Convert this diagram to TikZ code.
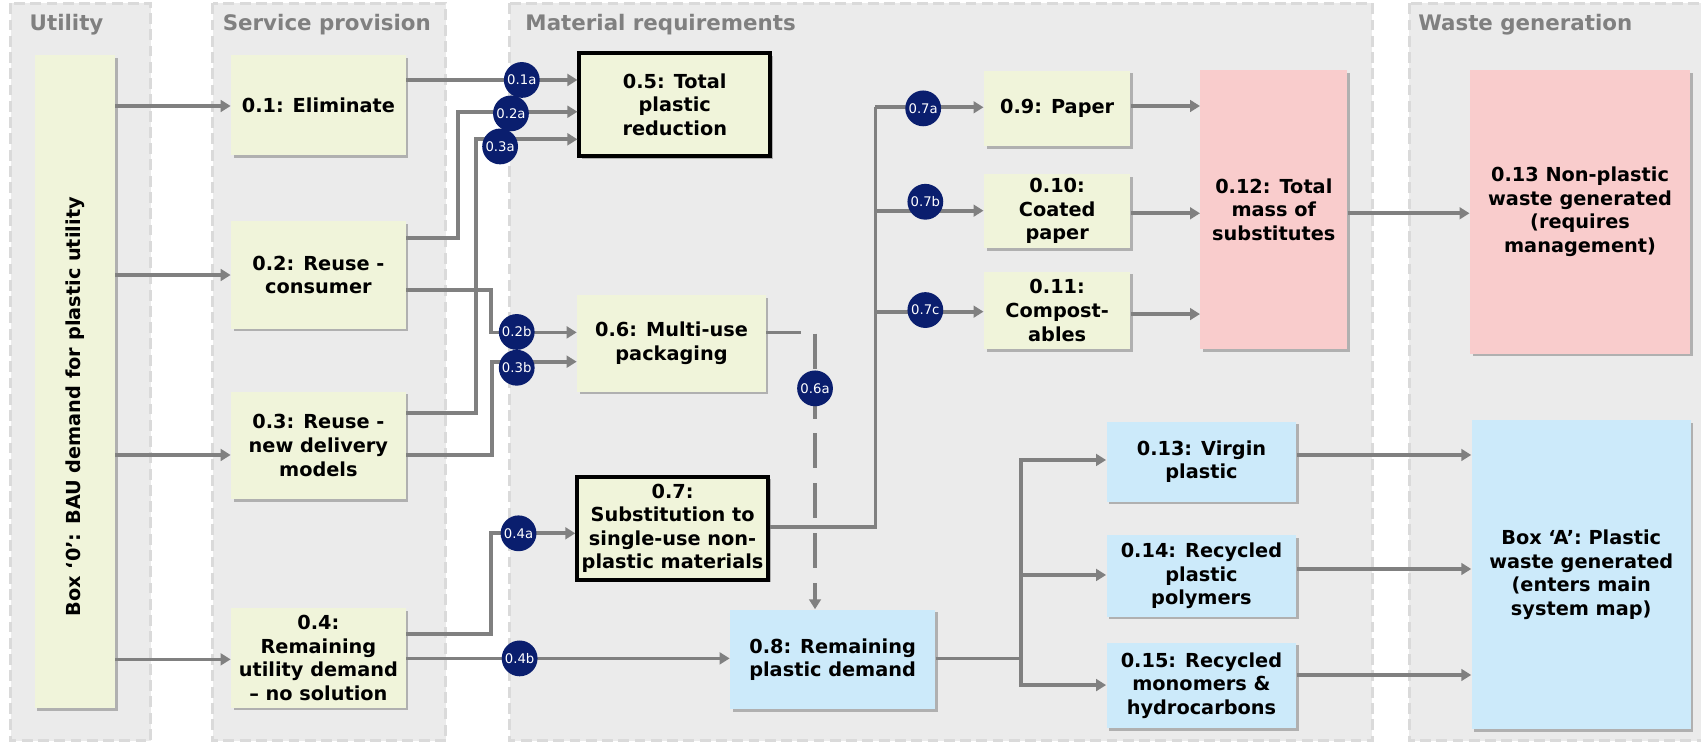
\documentclass[tikz,border=0pt]{standalone}
\usepackage{fontspec}
\setmainfont{DejaVu Sans}
\usetikzlibrary{arrows.meta,shadows}

\definecolor{panelgrey}{RGB}{235,235,235}
\definecolor{paneledge}{RGB}{218,218,218}
\definecolor{boxgreen}{RGB}{240,244,218}
\definecolor{boxpink}{RGB}{249,204,204}
\definecolor{boxblue}{RGB}{204,234,250}
\definecolor{flowgrey}{RGB}{128,128,128}
\definecolor{titlegrey}{RGB}{128,128,128}
\definecolor{badgenavy}{RGB}{10,30,110}

\begin{document}
\begin{tikzpicture}[x=0.5pt,y=-0.5pt,
  panel/.style={fill=panelgrey, draw=paneledge, line width=1.4pt, dash pattern=on 5pt off 2.5pt},
  paneltitle/.style={anchor=base west, text=titlegrey, inner sep=0pt,
    font=\fontsize{9.85}{12}\selectfont\bfseries},
  box/.style={align=center, inner sep=0pt,
    font=\fontsize{8.9}{10.9}\selectfont\bfseries,
    drop shadow={shadow xshift=1.2pt, shadow yshift=-1.2pt, opacity=0.25, fill=black}},
  greenbox/.style={box, fill=boxgreen},
  pinkbox/.style={box, fill=boxpink},
  bluebox/.style={box, fill=boxblue},
  keybox/.style={greenbox, draw=black, line width=1.7pt},
  flow/.style={draw=flowgrey, line width=1.7pt, -{Triangle[length=4.6pt,width=5.4pt]}},
  trunk/.style={draw=flowgrey, line width=1.7pt},
  optional/.style={flow, dash pattern=on 16.15pt off 6.85pt},
  badge/.style={circle, fill=badgenavy, text=white, inner sep=0pt, minimum size=16.5pt,
    font=\fontsize{6.1}{7}\selectfont}
]
\useasboundingbox (0,0) rectangle (1568,686);

% ---- column panels ----
\path[panel] (10,3) rectangle (139,683);
\path[panel] (196,3) rectangle (411,683);
\path[panel] (470,3) rectangle (1265,683);
\path[panel] (1299,3) rectangle (1600,683);

\node[paneltitle] (tUtil)  at (27,28)   {Utility};
\node[paneltitle] (tServ)  at (205,28)  {Service provision};
\node[paneltitle] (tMat)   at (484,28)  {Material requirements};
\node[paneltitle] (tWaste) at (1307,28) {Waste generation};

% ---- boxes ----
\node[greenbox, minimum width=37pt, minimum height=301pt] (n0) at (69,352) {};
\node[rotate=90, inner sep=0pt, font=\fontsize{8.9}{10.9}\selectfont\bfseries] (n0text) at (69,375)
  {Box ‘0’: BAU demand for plastic utility};

\node[greenbox, minimum width=80.5pt, minimum height=46pt]   (n01) at (293.5,97)    {0.1: Eliminate};
\node[greenbox, minimum width=80.5pt, minimum height=49.5pt] (n02) at (293.5,253.5)  {0.2: Reuse -\\consumer};
\node[greenbox, minimum width=80.5pt, minimum height=49.5pt] (n03) at (293.5,410.5)  {0.3: Reuse -\\new delivery\\models};
\node[greenbox, minimum width=80.5pt, minimum height=46pt]   (n04) at (293.5,606.5)  {0.4:\\Remaining\\utility demand\\– no solution};

\node[keybox, minimum width=88pt, minimum height=47.5pt] (n05) at (622,96.5) {0.5: Total\\plastic\\reduction};
\node[greenbox, minimum width=87pt, minimum height=44.5pt] (n06) at (619,316.5) {0.6: Multi-use\\packaging};
\node[keybox, minimum width=88pt, minimum height=47.5pt] (n07) at (620,487) {0.7:\\Substitution to\\single-use non-\\plastic materials};
\node[bluebox, minimum width=94.5pt, minimum height=46pt] (n08) at (767.5,608) {0.8: Remaining\\plastic demand};

\node[greenbox, minimum width=67.5pt, minimum height=35pt]    (n09)  at (974.5,100)   {0.9: Paper};
\node[greenbox, minimum width=67.5pt, minimum height=34.25pt] (n010) at (974.5,194.6) {0.10:\\Coated\\paper};
\node[greenbox, minimum width=67.5pt, minimum height=35.8pt]  (n011) at (974.5,286.2) {0.11:\\Compost-\\ables};

\node[pinkbox, minimum width=67.65pt, minimum height=128.75pt] (n012) at (1174.2,193.3) {0.12: Total\\mass of\\substitutes};
\node[pinkbox, minimum width=101.5pt, minimum height=130.75pt] (n013np) at (1456.5,195.3)
  {0.13 Non-plastic\\waste generated\\(requires\\management)};

\node[bluebox, minimum width=87.5pt, minimum height=36.85pt] (n013v) at (1107.5,425.6) {0.13: Virgin\\plastic};
\node[bluebox, minimum width=87.5pt, minimum height=37.65pt] (n014)  at (1107.5,530.9) {0.14: Recycled\\plastic\\polymers};
\node[bluebox, minimum width=87.5pt, minimum height=39.5pt]  (n015)  at (1107.5,631.9) {0.15: Recycled\\monomers \&\\hydrocarbons};
\node[bluebox, minimum width=101pt, minimum height=142.5pt]  (nA)    at (1457.6,529.8)
  {Box ‘A’: Plastic\\waste generated\\(enters main\\system map)};

% ---- utility to service options ----
\draw[flow] (n0.east |- 0,97.7)  -- (n01.west |- 0,97.7);
\draw[flow] (n0.east |- 0,253.5) -- (n02.west |- 0,253.5);
\draw[flow] (n0.east |- 0,419.4) -- (n03.west |- 0,419.4);
\draw[flow] (n0.east |- 0,607.8) -- (n04.west |- 0,607.8);

% ---- service options to material requirements ----
\draw[flow] (n01.east |- 0,73.7) -- (n05.west |- 0,73.7);
\draw[flow] (n02.east |- 0,219.7) -- (422.3,219.7) -- (422.3,103) -- (n05.west |- 0,103);
\draw[flow] (n03.east |- 0,380.4) -- (438.5,380.4) -- (438.5,128.4) -- (n05.west |- 0,128.4);
\draw[flow] (n02.east |- 0,267.3) -- (452.5,267.3) -- (452.5,306.4) -- (n06.west |- 0,306.4);
\draw[flow] (n03.east |- 0,419.4) -- (453.5,419.4) -- (453.5,333.4) -- (n06.west |- 0,333.4);
\draw[flow] (n04.east |- 0,584.7) -- (452.5,584.7) -- (452.5,491.6) -- (n07.west |- 0,491.6);
\draw[flow] (n04.east |- 0,606.9) -- (n08.west |- 0,606.9);

% ---- multi-use packaging may fall back on plastic ----
\draw[optional] (n06.east |- 0,306.4) -- (751.3,306.4) -- (751.3,0 |- n08.north);

% ---- substitutes ----
\coordinate (j7a) at (807,98.9);
\coordinate (j7b) at (807,194.2);
\coordinate (j7c) at (807,287.3);
\draw[trunk] (n07.east |- 0,485.5) -- (807,485.5) -- (j7a);
\draw[flow] (j7a) -- (n09.west |- j7a);
\draw[flow] (j7b) -- (n010.west |- j7b);
\draw[flow] (j7c) -- (n011.west |- j7c);

\draw[flow] (n09.east |- 0,97.7)   -- (n012.west |- 0,97.7);
\draw[flow] (n010.east |- 0,196.6) -- (n012.west |- 0,196.6);
\draw[flow] (n011.east |- 0,289.5) -- (n012.west |- 0,289.5);
\draw[flow] (n012.east |- 0,196.6) -- (n013np.west |- 0,196.6);

% ---- remaining plastic demand ----
\coordinate (j8) at (941,606.9);
\coordinate (j8b) at (941,530);
\draw[trunk] (n08.east |- j8) -- (j8);
\draw[flow] (j8) |- (n013v.west |- 0,424);
\draw[flow] (j8b) -- (n014.west |- j8b);
\draw[flow] (j8) |- (n015.west |- 0,631.5);

\draw[flow] (n013v.east |- 0,419.4) -- (nA.west |- 0,419.4);
\draw[flow] (n014.east |- 0,524.5)  -- (nA.west |- 0,524.5);
\draw[flow] (n015.east |- 0,622.2)  -- (nA.west |- 0,622.2);

% ---- flow labels ----
\node[badge] (b1a) at (481,73.7)   {0.1a};
\node[badge] (b2a) at (471,104.5)  {0.2a};
\node[badge] (b3a) at (461,135)    {0.3a};
\node[badge] (b2b) at (476.3,306)  {0.2b};
\node[badge] (b3b) at (476.3,339)  {0.3b};
\node[badge] (b4a) at (478,491.6)  {0.4a};
\node[badge] (b4b) at (479,606.9)  {0.4b};
\node[badge] (b6a) at (751.3,358)  {0.6a};
\node[badge] (b7a) at (851,99.9)   {0.7a};
\node[badge] (b7b) at (853,186)    {0.7b};
\node[badge] (b7c) at (853,285.8)  {0.7c};
\end{tikzpicture}
\end{document}
